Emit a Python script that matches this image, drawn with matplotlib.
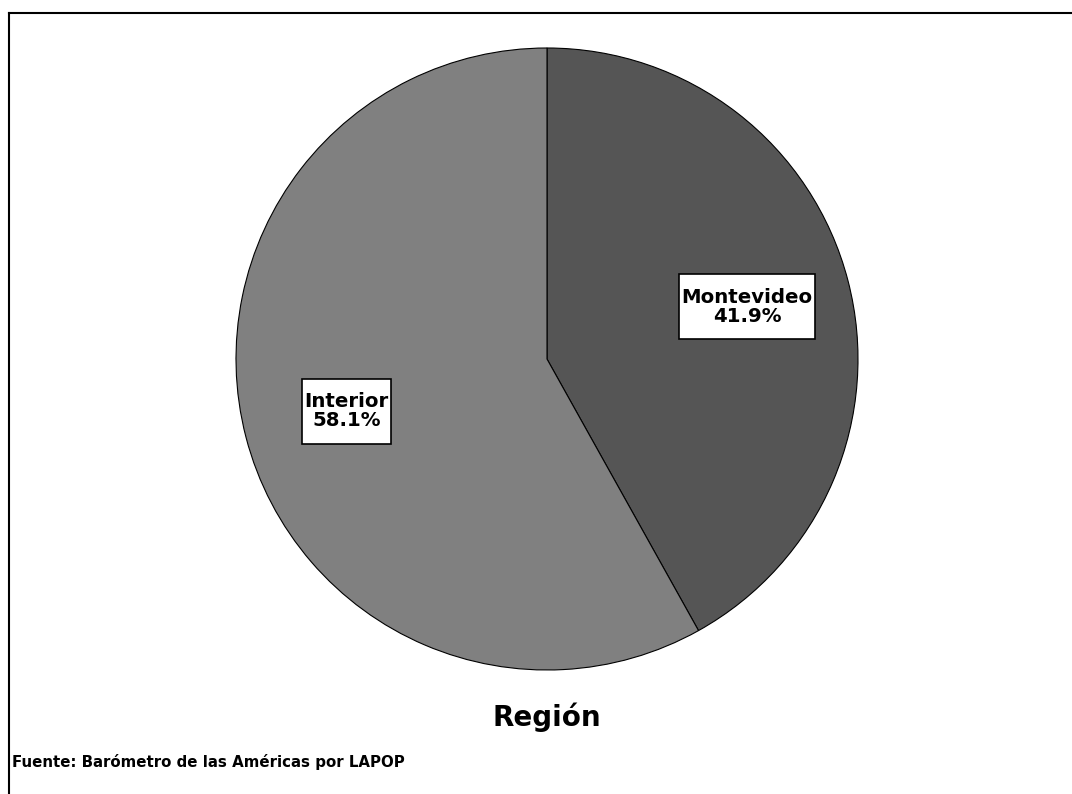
import matplotlib
matplotlib.use("Agg")
import matplotlib.pyplot as plt
from matplotlib.lines import Line2D
from matplotlib.patches import Rectangle

# data
regiones = ["Montevideo", "Interior"]
porcentajes = [41.9, 58.1]
colores = ["#555555", "#808080"]
titulo = "Región"
fuente = "Fuente: Barómetro de las Américas por LAPOP"

W, H = 1072, 794
fig = plt.figure(figsize=(W / 100, H / 100), dpi=100)
fig.patch.set_facecolor("white")

# pie axes placed by pixel
cx, cy, r = 547, 359, 311
ax = fig.add_axes([(cx - r) / W, (H - cy - r) / H, 2 * r / W, 2 * r / H])

labels = [f"{n}\n{p:.1f}%" for n, p in zip(regiones, porcentajes)]
wedges, texts = ax.pie(porcentajes, colors=colores, startangle=90, counterclock=False,
                       labels=labels, labeldistance=0.665,
                       wedgeprops=dict(edgecolor="black", linewidth=0.8))
for t in texts:
    t.set_ha("center")
    t.set_va("center")
    t.set_fontsize(14.2)
    t.set_fontweight("bold")
    t.set_linespacing(1.0)
    t.set_zorder(5)
ax.set_xlim(-1, 1)
ax.set_ylim(-1, 1)
ax.set_aspect("equal")
ax.axis("off")

fig.text(547 / W, 1 - 717 / H, titulo, ha="center", va="center", fontsize=20, fontweight="bold")
fig.text(12 / W, 1 - 762 / H, fuente, ha="left", va="center", fontsize=10.8, fontweight="bold")

# white label boxes: narrow side padding, tall top/bottom padding
fig.canvas.draw()
for t in texts:
    bb = t.get_window_extent()
    box = Rectangle((bb.x0 - 2.5, bb.y0 - 13.5), bb.width + 5, bb.height + 27,
                    transform=None, facecolor="white", edgecolor="black",
                    linewidth=1.2, zorder=4)
    ax.add_artist(box)

# frame lines (top and left only)
fig.add_artist(Line2D([9 / W, 1], [1 - 13 / H, 1 - 13 / H], color="black", linewidth=1.5, transform=fig.transFigure))
fig.add_artist(Line2D([9 / W, 9 / W], [0, 1 - 13 / H], color="black", linewidth=1.5, transform=fig.transFigure))

fig.savefig("out.png", dpi=100)
